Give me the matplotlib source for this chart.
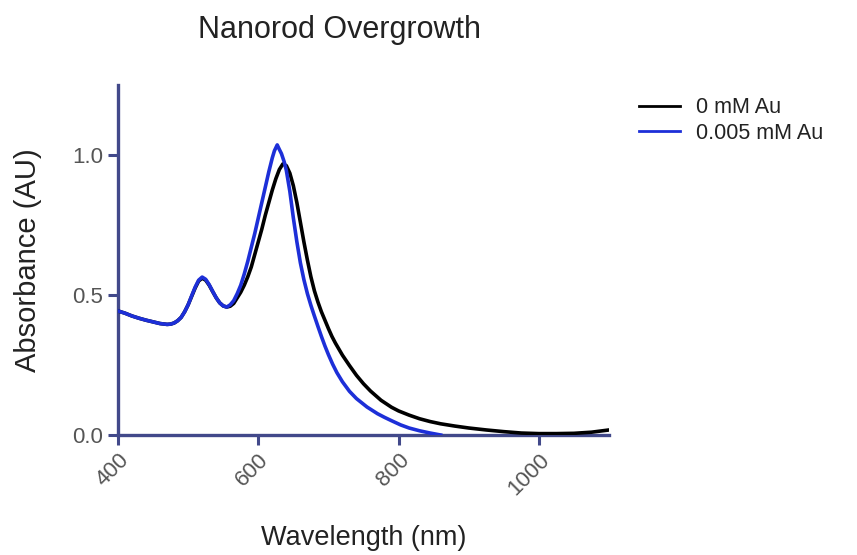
import numpy as np
import matplotlib.pyplot as plt

plt.rcParams['font.family'] = ['Liberation Sans', 'DejaVu Sans']

# absorbance spectra
wl_0 = [400, 410, 420, 430, 440, 450, 460, 470, 475, 480, 485, 490, 495, 500,
        505, 510, 515, 520, 525, 530, 535, 540, 545, 550, 555, 560, 565, 570,
        575, 580, 585, 590, 595, 600, 605, 610, 615, 620, 625, 630, 635, 640,
        645, 650, 655, 660, 665, 670, 675, 680, 685, 690, 695, 700, 705, 710,
        720, 730, 740, 750, 760, 775, 790, 800, 815, 830, 845, 860, 880, 900,
        925, 950, 975, 1000, 1025, 1050, 1075, 1100]
abs_0 = [0.443, 0.435, 0.425, 0.417, 0.41, 0.404, 0.398, 0.395, 0.396, 0.40,
         0.408, 0.42, 0.44, 0.465, 0.495, 0.525, 0.55, 0.56, 0.553, 0.535,
         0.512, 0.49, 0.472, 0.461, 0.457, 0.46, 0.47, 0.49, 0.51, 0.535,
         0.565, 0.60, 0.645, 0.69, 0.735, 0.785, 0.83, 0.875, 0.915, 0.948,
         0.968, 0.962, 0.935, 0.89, 0.83, 0.76, 0.69, 0.625, 0.565, 0.515,
         0.475, 0.44, 0.41, 0.38, 0.352, 0.328, 0.285, 0.248, 0.213, 0.183,
         0.157, 0.124, 0.099, 0.086, 0.071, 0.058, 0.048, 0.04, 0.032, 0.025,
         0.018, 0.012, 0.007, 0.005, 0.005, 0.006, 0.01, 0.018]

wl_005 = [400, 410, 420, 430, 440, 450, 460, 470, 475, 480, 485, 490, 495, 500,
          505, 510, 515, 520, 525, 530, 535, 540, 545, 550, 555, 560, 565, 570,
          575, 580, 585, 590, 595, 600, 605, 610, 615, 620, 623, 627, 630, 633,
          637, 640, 645, 650, 655, 660, 665, 670, 675, 680, 685, 690, 695, 700,
          706, 712, 720, 730, 740, 755, 770, 780, 790, 803, 815, 830, 845, 860]
abs_005 = [0.443, 0.435, 0.425, 0.417, 0.41, 0.404, 0.398, 0.395, 0.396, 0.40,
           0.408, 0.42, 0.44, 0.465, 0.497, 0.528, 0.553, 0.564, 0.556, 0.537,
           0.513, 0.49, 0.472, 0.461, 0.457, 0.465, 0.48, 0.505, 0.535, 0.575,
           0.62, 0.67, 0.72, 0.775, 0.83, 0.885, 0.94, 0.99, 1.015, 1.036, 1.02,
           1.005, 0.975, 0.945, 0.87, 0.775, 0.69, 0.615, 0.555, 0.505, 0.463,
           0.425, 0.388, 0.352, 0.318, 0.287, 0.253, 0.223, 0.19, 0.156, 0.13,
           0.10, 0.076, 0.063, 0.051, 0.036, 0.025, 0.015, 0.007, 0.0]

labels = ['0 mM Au', '0.005 mM Au']
xticks = [400, 600, 800, 1000]
yticks = [0.0, 0.5, 1.0]

axis_col = '#42498a'
txt_col = '#555555'

fig = plt.figure(figsize=(8.57, 5.55), dpi=100)
ax = fig.add_axes([118 / 857, 1 - 435 / 555, (609 - 118) / 857, (435 - 85) / 555])

ax.plot(wl_0, abs_0, color='black', lw=2.6, label=labels[0], zorder=3)
ax.plot(wl_005, abs_005, color='#1d2fd8', lw=2.6, label=labels[1], zorder=4)

ax.set_xlim(400, 1100)
ax.set_ylim(0, 1.25)
ax.set_xticks(xticks)
ax.set_yticks(yticks)
ax.set_yticklabels(['0.0', '0.5', '1.0'])

for s in ['top', 'right']:
    ax.spines[s].set_visible(False)
for s in ['left', 'bottom']:
    ax.spines[s].set_color(axis_col)
    ax.spines[s].set_linewidth(2.4)

ax.tick_params(axis='both', colors=axis_col, width=2.2, length=7,
               labelcolor=txt_col, labelsize=16)
plt.setp(ax.get_xticklabels(), rotation=45, ha='right', va='top',
         rotation_mode='anchor')

ax.set_xlabel('Wavelength (nm)', fontsize=19.5, color='#222222', labelpad=18)
ax.set_ylabel('Absorbance (AU)', fontsize=21, color='#222222', labelpad=22)

fig.text(339 / 857, 1 - 38 / 555, 'Nanorod Overgrowth', fontsize=22,
         color='#222222', ha='center', va='baseline')

leg = ax.legend(loc='upper left', bbox_to_anchor=(620 / 857, 1 - 78 / 555),
                bbox_transform=fig.transFigure, frameon=False, fontsize=15.5,
                handlelength=1.9, handletextpad=0.75, labelspacing=0.2)
for t in leg.get_texts():
    t.set_color('#222222')
for h in leg.get_lines():
    h.set_linewidth(2.0)

fig.savefig('out.png', dpi=100)
